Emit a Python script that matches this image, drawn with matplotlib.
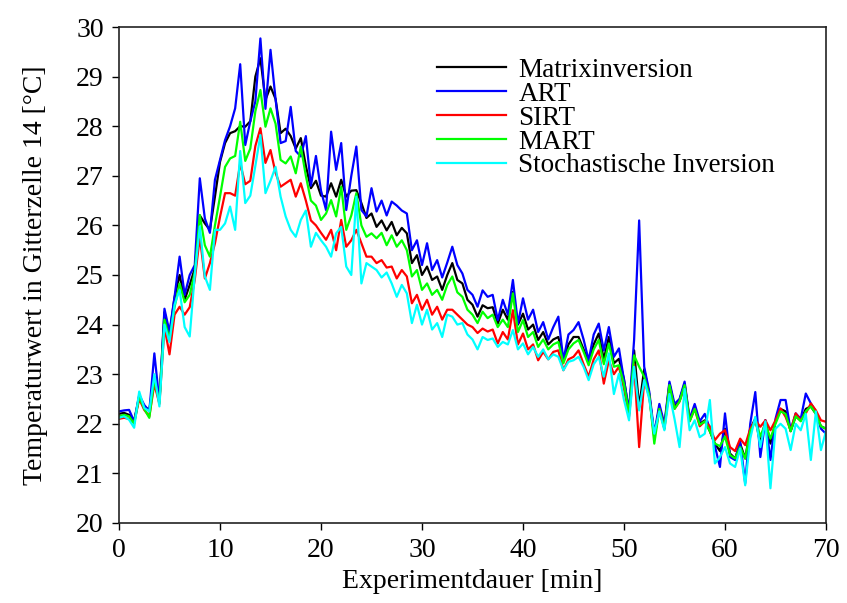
import numpy as np
import matplotlib.pyplot as plt

plt.rcParams['font.family'] = ['Liberation Serif', 'DejaVu Serif']
plt.rcParams['mathtext.fontset'] = 'stix'

# Zeitachse [min], Schritt 0.5 min
t = np.arange(0, 70.01, 0.5)

matrix = [22.20, 22.22, 22.18, 22.05, 22.55, 22.35, 22.28, 22.95, 22.45, 24.25,
          23.80, 24.55, 25.00, 24.50, 24.80, 25.13, 26.20, 26.04, 25.91, 26.58,
          27.28, 27.66, 27.86, 27.90, 28.00, 27.99, 28.10, 29.00, 29.37, 28.53,
          28.80, 28.55, 27.86, 27.95, 27.80, 27.55, 27.76, 27.20, 26.75, 26.90,
          26.60, 26.58, 26.85, 26.58, 26.92, 26.58, 26.70, 26.71, 26.45, 26.15,
          26.24, 25.97, 26.10, 25.90, 26.07, 25.80, 25.95, 25.84, 25.24, 25.40,
          25.00, 25.17, 24.90, 24.97, 24.70, 25.00, 25.24, 24.90, 24.83, 24.50,
          24.40, 24.16, 24.39, 24.33, 24.35, 24.02, 24.30, 24.10, 24.66, 24.00,
          24.22, 23.90, 24.00, 23.69, 23.85, 23.60, 23.70, 23.75, 23.28, 23.60,
          23.75, 23.75, 23.50, 23.25, 23.60, 23.82, 23.30, 23.75, 23.22, 23.31,
          22.90, 22.21, 23.48, 22.34, 23.10, 22.60, 21.75, 22.34, 21.95, 22.81,
          22.34, 22.48, 22.81, 22.07, 22.34, 22.00, 22.07, 21.85, 21.60, 21.45,
          21.90, 21.40, 21.30, 21.60, 21.30, 21.90, 22.10, 21.60, 22.07, 21.60,
          22.05, 22.30, 22.25, 21.85, 22.15, 22.07, 22.30, 22.35, 22.20, 21.95,
          21.90]

art = [22.25, 22.27, 22.28, 22.05, 22.58, 22.38, 22.25, 23.42, 22.45, 24.32,
       23.85, 24.56, 25.37, 24.60, 25.00, 25.20, 26.95, 26.14, 25.85, 26.92,
       27.32, 27.72, 28.00, 28.36, 29.25, 27.62, 28.10, 28.50, 29.77, 28.35,
       29.54, 28.55, 27.66, 27.70, 28.39, 27.50, 27.39, 27.80, 26.80, 27.40,
       26.70, 26.31, 27.89, 27.12, 27.66, 26.31, 27.00, 27.59, 26.31, 26.18,
       26.75, 26.28, 26.50, 26.20, 26.48, 26.40, 26.30, 26.24, 25.50, 25.70,
       25.20, 25.64, 25.10, 25.30, 24.95, 25.25, 25.57, 25.20, 25.03, 24.70,
       24.60, 24.36, 24.69, 24.56, 24.60, 24.09, 24.50, 24.20, 24.90, 24.02,
       24.53, 24.10, 24.30, 23.85, 24.05, 23.70, 23.95, 24.16, 23.28, 23.80,
       23.89, 24.05, 23.70, 23.28, 23.80, 24.02, 23.48, 23.95, 23.35, 23.52,
       22.88, 22.27, 23.69, 26.10, 23.15, 22.65, 21.80, 22.40, 22.00, 22.85,
       22.40, 22.50, 22.85, 22.10, 22.40, 22.05, 22.20, 21.90, 21.55, 21.13,
       22.21, 21.33, 21.27, 21.65, 20.80, 22.00, 22.64, 21.33, 22.07, 21.27,
       22.10, 22.48, 22.48, 21.87, 22.21, 22.10, 22.61, 22.41, 22.25, 21.90,
       21.80]

sirt = [22.10, 22.12, 22.10, 22.02, 22.50, 22.28, 22.15, 22.80, 22.40, 23.95,
        23.40, 24.20, 24.36, 24.20, 24.35, 24.90, 25.77, 24.93, 25.24, 25.64,
        26.17, 26.65, 26.65, 26.60, 27.25, 26.83, 26.90, 27.60, 27.96, 27.26,
        27.52, 27.06, 26.78, 26.85, 26.92, 26.58, 26.85, 26.50, 26.10, 26.00,
        25.85, 25.71, 25.91, 25.50, 26.11, 25.57, 25.70, 25.91, 25.64, 25.37,
        25.37, 25.24, 25.30, 25.15, 25.17, 24.93, 25.10, 24.97, 24.43, 24.60,
        24.30, 24.50, 24.20, 24.36, 24.10, 24.30, 24.30, 24.20, 24.10, 24.00,
        23.95, 23.83, 23.92, 23.86, 23.90, 23.62, 23.85, 23.70, 24.29, 23.60,
        23.82, 23.50, 23.60, 23.28, 23.45, 23.30, 23.45, 23.48, 23.08, 23.30,
        23.35, 23.48, 23.20, 22.95, 23.30, 23.48, 22.81, 23.28, 23.00, 23.15,
        22.70, 22.15, 23.20, 21.53, 22.88, 22.55, 21.72, 22.30, 21.90, 22.75,
        22.30, 22.45, 22.75, 22.05, 22.30, 21.95, 22.05, 21.95, 21.67, 21.80,
        21.87, 21.53, 21.45, 21.70, 21.57, 21.90, 22.07, 21.94, 22.07, 21.87,
        22.07, 22.31, 22.14, 21.87, 22.21, 22.07, 22.21, 22.41, 22.27, 22.07,
        22.04]

mart = [22.15, 22.18, 22.15, 22.00, 22.55, 22.30, 22.12, 22.90, 22.42, 24.10,
        23.70, 24.35, 24.83, 24.45, 24.60, 25.05, 26.21, 25.60, 25.37, 26.00,
        26.58, 27.18, 27.35, 27.40, 28.09, 27.30, 27.55, 28.30, 28.73, 27.99,
        28.36, 28.05, 27.32, 27.25, 27.39, 27.05, 27.59, 27.00, 26.50, 26.40,
        26.11, 26.24, 26.51, 26.18, 26.78, 25.91, 26.20, 26.65, 26.00, 25.77,
        25.84, 25.74, 25.85, 25.60, 25.80, 25.57, 25.70, 25.50, 24.97, 25.10,
        24.70, 24.83, 24.60, 24.70, 24.50, 24.80, 24.97, 24.65, 24.56, 24.30,
        24.20, 24.03, 24.26, 24.13, 24.20, 23.95, 24.10, 23.95, 24.63, 23.85,
        24.09, 23.75, 23.85, 23.55, 23.70, 23.50, 23.60, 23.65, 23.22, 23.50,
        23.62, 23.69, 23.45, 23.18, 23.50, 23.69, 23.20, 23.62, 23.15, 23.18,
        22.80, 22.20, 23.38, 23.15, 22.95, 22.58, 21.60, 22.30, 21.90, 22.78,
        22.30, 22.45, 22.78, 22.05, 22.30, 21.98, 22.05, 21.85, 21.60, 21.55,
        21.74, 21.37, 21.30, 21.53, 21.30, 21.85, 22.05, 21.75, 22.00, 21.70,
        22.00, 22.25, 22.20, 21.85, 22.15, 22.05, 22.25, 22.35, 22.20, 21.95,
        21.90]

stoch = [22.12, 22.15, 22.08, 21.92, 22.65, 22.32, 22.25, 23.00, 22.35, 24.00,
         23.65, 24.40, 24.70, 23.95, 23.76, 25.00, 25.98, 24.97, 24.70, 25.91,
         25.91, 26.04, 26.38, 25.91, 27.50, 26.45, 26.60, 27.20, 27.82, 26.65,
         26.90, 27.18, 26.58, 26.18, 25.91, 25.77, 26.11, 26.30, 25.57, 25.85,
         25.70, 25.57, 25.37, 25.84, 25.97, 25.17, 25.00, 26.58, 24.83, 25.24,
         25.17, 25.10, 24.95, 25.05, 24.83, 24.56, 24.80, 24.63, 24.03, 24.40,
         24.00, 24.30, 23.90, 24.03, 23.75, 24.20, 24.16, 24.00, 24.03, 23.80,
         23.70, 23.50, 23.75, 23.69, 23.72, 23.55, 23.65, 23.60, 23.89, 23.50,
         23.62, 23.40, 23.55, 23.35, 23.50, 23.30, 23.40, 23.35, 23.08, 23.25,
         23.28, 23.35, 23.15, 22.88, 23.20, 23.35, 22.95, 23.42, 22.60, 23.01,
         22.48, 22.07, 23.15, 22.27, 22.88, 22.50, 21.80, 22.25, 21.87, 22.60,
         22.10, 21.53, 22.70, 21.87, 22.07, 21.73, 21.80, 22.48, 21.20, 21.33,
         21.53, 21.20, 21.13, 21.50, 20.76, 21.70, 22.14, 21.53, 22.05, 20.70,
         21.90, 22.00, 21.90, 21.47, 22.00, 21.87, 22.20, 21.27, 22.25, 21.47,
         21.85]

series = [
    ('Matrixinversion', matrix, 'black'),
    ('ART', art, '#0000ff'),
    ('SIRT', sirt, '#ff0000'),
    ('MART', mart, '#00ff00'),
    ('Stochastische Inversion', stoch, '#00ffff'),
]

fig = plt.figure(figsize=(8.47, 6.03), dpi=100)
ax = fig.add_axes([0.1405, 0.1327, 0.8347, 0.8225])

for name, vals, col in series:
    ax.plot(t, vals, color=col, lw=1.6, label=name)

ax.set_xlim(0, 70)
ax.set_ylim(20, 30)
ax.set_xticks(np.arange(0, 71, 10))
ax.set_yticks(np.arange(20, 31, 1))
ax.tick_params(direction='out', length=5, width=1, labelsize=20, pad=6,
               top=False, right=False)
for s in ax.spines.values():
    s.set_linewidth(1.2)
    s.set_color('#222222')

ax.set_xlabel('Experimentdauer [min]', fontsize=20, labelpad=4)
ax.set_ylabel('Temperaturwert in Gitterzelle 14 [°C]', fontsize=20, labelpad=20)

ax.legend(loc='upper left', bbox_to_anchor=(0.45, 0.938), frameon=False,
          fontsize=19.5, handlelength=2.55, handletextpad=0.45,
          labelspacing=-0.04, borderpad=0, borderaxespad=0)

fig.savefig('out.png', dpi=100)
